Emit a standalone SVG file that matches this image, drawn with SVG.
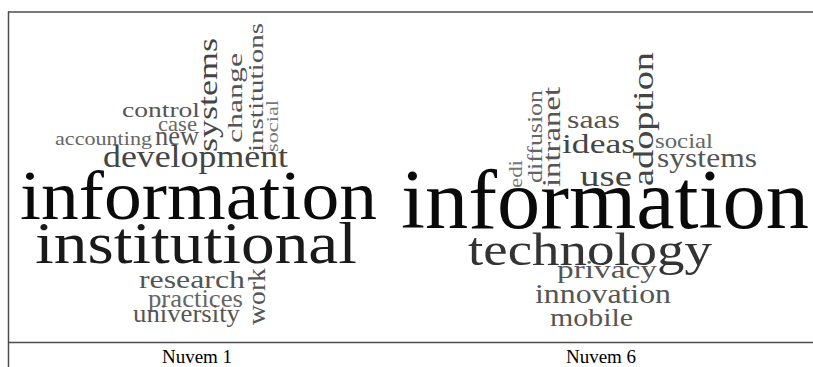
<svg xmlns="http://www.w3.org/2000/svg" width="813" height="367" viewBox="0 0 813 367">
<style>
  .w { font-family: "Liberation Serif", "Times New Roman", serif; }
  .cap { font-family: "Liberation Serif", "Times New Roman", serif; font-size: 19px; fill: #000; text-anchor: middle; }
  .frame { stroke: #4d4d4d; stroke-width: 1.5; fill: none; }
  .k0 { fill: #0a0a0a; }
  .k1 { fill: #1a1a1a; }
  .k2 { fill: #333333; }
  .k3 { fill: #444444; }
  .k4 { fill: #555555; }
  .k5 { fill: #666666; }
  .k6 { fill: #777777; }
</style>
<rect x="0" y="0" width="813" height="367" fill="#ffffff"/>
<g id="frame">
  <line class="frame" x1="8" y1="12" x2="813" y2="12"/>
  <line class="frame" x1="8.5" y1="11.5" x2="8.5" y2="367"/>
  <line class="frame" x1="8" y1="342.5" x2="813" y2="342.5"/>
</g>
<g id="cloud1" class="w">
  <text class="k0" x="20" y="219" font-size="69" textLength="357" lengthAdjust="spacingAndGlyphs">information</text>
  <text class="k1" x="35" y="263" font-size="60" textLength="322" lengthAdjust="spacingAndGlyphs">institutional</text>
  <text class="k3" x="103" y="167" font-size="31" textLength="185" lengthAdjust="spacingAndGlyphs">development</text>
  <text class="k4" x="122" y="117" font-size="22" textLength="78" lengthAdjust="spacingAndGlyphs">control</text>
  <text class="k5" x="158" y="131" font-size="21" textLength="39" lengthAdjust="spacingAndGlyphs">case</text>
  <text class="k4" x="155" y="145" font-size="27" textLength="44" lengthAdjust="spacingAndGlyphs">new</text>
  <text class="k5" x="55" y="145" font-size="19" textLength="97" lengthAdjust="spacingAndGlyphs">accounting</text>
  <text class="k3" transform="translate(217,152) rotate(-90)" font-size="28" textLength="114" lengthAdjust="spacingAndGlyphs">systems</text>
  <text class="k4" transform="translate(242,143) rotate(-90)" font-size="22" textLength="90" lengthAdjust="spacingAndGlyphs">change</text>
  <text class="k4" transform="translate(263,152) rotate(-90)" font-size="22" textLength="129" lengthAdjust="spacingAndGlyphs">institutions</text>
  <text class="k6" transform="translate(278,152) rotate(-90)" font-size="17" textLength="52" lengthAdjust="spacingAndGlyphs">social</text>
  <text class="k4" x="139" y="288" font-size="25" textLength="106" lengthAdjust="spacingAndGlyphs">research</text>
  <text class="k5" x="148" y="307" font-size="25" textLength="95" lengthAdjust="spacingAndGlyphs">practices</text>
  <text class="k4" x="133" y="322" font-size="25" textLength="107" lengthAdjust="spacingAndGlyphs">university</text>
  <text class="k4" transform="translate(265,325) rotate(-90)" font-size="25" textLength="57" lengthAdjust="spacingAndGlyphs">work</text>
</g>
<g id="cloud6" class="w">
  <text class="k0" x="401" y="228" font-size="85" textLength="408" lengthAdjust="spacingAndGlyphs">information</text>
  <text class="k2" x="468" y="265" font-size="46" textLength="244" lengthAdjust="spacingAndGlyphs">technology</text>
  <text class="k4" x="557" y="278" font-size="26" textLength="100" lengthAdjust="spacingAndGlyphs">privacy</text>
  <text class="k4" x="535" y="303" font-size="27" textLength="136" lengthAdjust="spacingAndGlyphs">innovation</text>
  <text class="k4" x="550" y="326" font-size="25" textLength="83" lengthAdjust="spacingAndGlyphs">mobile</text>
  <text class="k3" x="580" y="186" font-size="30" textLength="52" lengthAdjust="spacingAndGlyphs">use</text>
  <text class="k3" x="562" y="153" font-size="27" textLength="73" lengthAdjust="spacingAndGlyphs">ideas</text>
  <text class="k4" x="567" y="128" font-size="25" textLength="53" lengthAdjust="spacingAndGlyphs">saas</text>
  <text class="k5" x="655" y="148" font-size="22" textLength="58" lengthAdjust="spacingAndGlyphs">social</text>
  <text class="k4" x="657" y="167" font-size="27" textLength="100" lengthAdjust="spacingAndGlyphs">systems</text>
  <text class="k3" transform="translate(653,186) rotate(-90)" font-size="29" textLength="134" lengthAdjust="spacingAndGlyphs">adoption</text>
  <text class="k4" transform="translate(560,187) rotate(-90)" font-size="26" textLength="100" lengthAdjust="spacingAndGlyphs">intranet</text>
  <text class="k5" transform="translate(542,183) rotate(-90)" font-size="22" textLength="93" lengthAdjust="spacingAndGlyphs">diffusion</text>
  <text class="k6" transform="translate(522,188) rotate(-90)" font-size="18" textLength="28" lengthAdjust="spacingAndGlyphs">edi</text>
</g>
<g id="captions">
  <text class="cap" x="197" y="363">Nuvem 1</text>
  <text class="cap" x="601" y="363">Nuvem 6</text>
</g>
</svg>
